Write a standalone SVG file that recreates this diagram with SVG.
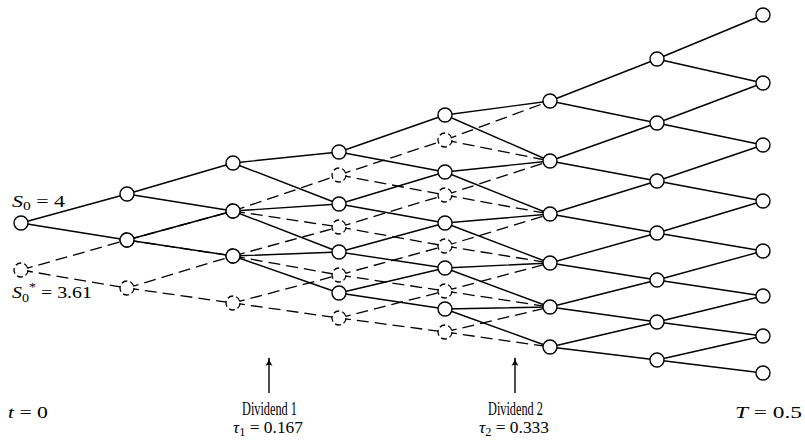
<svg xmlns="http://www.w3.org/2000/svg" width="805" height="441" viewBox="0 0 805 441">
<style>
.e{stroke:#000;stroke-width:1.4;fill:none}
.ed{stroke:#000;stroke-width:1.3;fill:none;stroke-dasharray:12 6}
.n{fill:#fff;stroke:#000;stroke-width:1.4}
.nd{fill:#fff;stroke:#000;stroke-width:1.3;stroke-dasharray:6 3}
text{font-family:"Liberation Serif","DejaVu Serif",serif;fill:#000}
.m{font-size:17px}
.l{font-size:19px}
.i{font-style:italic}
</style>
<defs>
<marker id="ah" viewBox="0 0 10 10" refX="9" refY="5" markerWidth="9" markerHeight="9" orient="auto" markerUnits="userSpaceOnUse">
<path d="M0,1 Q5,5 10,5 Q5,5 0,9 Q3,5 0,1Z" fill="#000"/>
</marker>
</defs>
<g id="connectors">
<g class="e">
<path d="M21,223L127,194M21,223L127,240"/>
<path d="M127,194L233,163M127,194L233,211M127,240L233,211M127,240L233,256"/>
<path d="M233,163L339,152M233,163L339,204M233,211L339,204M233,211L339,252M233,256L339,252M233,256L339,293"/>
<path d="M339,152L445,115M339,152L445,172M339,204L445,172M339,204L445,223M339,252L445,223M339,252L445,268M339,293L445,268M339,293L445,309"/>
<path d="M445,115L550,101M445,115L550,161M445,172L550,161M445,172L550,214M445,223L550,214M445,223L550,263M445,268L550,263M445,268L550,307M445,309L550,307M445,309L550,347"/>
<path d="M550,101L657,59M550,101L657,123M550,161L657,123M550,161L657,181M550,214L657,181M550,214L657,233M550,263L657,233M550,263L657,280M550,307L657,280M550,307L657,322M550,347L657,322M550,347L657,360"/>
<path d="M657,59L763,15M657,59L763,83M657,123L763,83M657,123L763,145M657,181L763,145M657,181L763,201M657,233L763,201M657,233L763,251M657,280L763,251M657,280L763,296M657,322L763,296M657,322L763,336M657,360L763,336M657,360L763,373"/>
</g>
<g class="ed">
<path d="M21,270L127,240"/><path d="M21,270L127,288"/>
<path d="M127,240L233,211"/><path d="M127,240L233,256"/><path d="M127,288L233,256"/><path d="M127,288L233,303"/>
<path d="M233,211L339,175"/><path d="M233,211L339,227"/><path d="M233,256L339,227"/><path d="M233,256L339,275"/><path d="M233,303L339,275"/><path d="M233,303L339,318"/>
<path d="M339,175L445,140"/><path d="M339,175L445,195"/><path d="M339,227L445,195"/><path d="M339,227L445,246"/><path d="M339,275L445,246"/><path d="M339,275L445,291"/><path d="M339,318L445,291"/><path d="M339,318L445,332"/>
<path d="M445,140L550,101"/><path d="M445,140L550,161"/><path d="M445,195L550,161"/><path d="M445,195L550,214"/><path d="M445,246L550,214"/><path d="M445,246L550,263"/><path d="M445,291L550,263"/><path d="M445,291L550,307"/><path d="M445,332L550,307"/><path d="M445,332L550,347"/>
</g>
<g class="e">
<line x1="269" y1="393" x2="269" y2="358" marker-end="url(#ah)"/>
<line x1="515" y1="393" x2="515" y2="358" marker-end="url(#ah)"/>
</g>
</g>
<g id="dashed-nodes" class="nd">
<g id="d0-0"><circle cx="21" cy="270" r="7"/></g>
<g id="d1-0"><circle cx="127" cy="240" r="7"/></g>
<g id="d1-1"><circle cx="127" cy="288" r="7"/></g>
<g id="d2-0"><circle cx="233" cy="211" r="7"/></g>
<g id="d2-1"><circle cx="233" cy="256" r="7"/></g>
<g id="d2-2"><circle cx="233" cy="303" r="7"/></g>
<g id="d3-0"><circle cx="339" cy="175" r="7"/></g>
<g id="d3-1"><circle cx="339" cy="227" r="7"/></g>
<g id="d3-2"><circle cx="339" cy="275" r="7"/></g>
<g id="d3-3"><circle cx="339" cy="318" r="7"/></g>
<g id="d4-0"><circle cx="445" cy="140" r="7"/></g>
<g id="d4-1"><circle cx="445" cy="195" r="7"/></g>
<g id="d4-2"><circle cx="445" cy="246" r="7"/></g>
<g id="d4-3"><circle cx="445" cy="291" r="7"/></g>
<g id="d4-4"><circle cx="445" cy="332" r="7"/></g>
</g>
<g id="solid-nodes" class="n">
<g id="c0-0"><circle cx="21" cy="223" r="7"/></g>
<g id="c1-0"><circle cx="127" cy="194" r="7"/></g>
<g id="c1-1"><circle cx="127" cy="240" r="7"/></g>
<g id="c2-0"><circle cx="233" cy="163" r="7"/></g>
<g id="c2-1"><circle cx="233" cy="211" r="7"/></g>
<g id="c2-2"><circle cx="233" cy="256" r="7"/></g>
<g id="c3-0"><circle cx="339" cy="152" r="7"/></g>
<g id="c3-1"><circle cx="339" cy="204" r="7"/></g>
<g id="c3-2"><circle cx="339" cy="252" r="7"/></g>
<g id="c3-3"><circle cx="339" cy="293" r="7"/></g>
<g id="c4-0"><circle cx="445" cy="115" r="7"/></g>
<g id="c4-1"><circle cx="445" cy="172" r="7"/></g>
<g id="c4-2"><circle cx="445" cy="223" r="7"/></g>
<g id="c4-3"><circle cx="445" cy="268" r="7"/></g>
<g id="c4-4"><circle cx="445" cy="309" r="7"/></g>
<g id="c5-0"><circle cx="550" cy="101" r="7"/></g>
<g id="c5-1"><circle cx="550" cy="161" r="7"/></g>
<g id="c5-2"><circle cx="550" cy="214" r="7"/></g>
<g id="c5-3"><circle cx="550" cy="263" r="7"/></g>
<g id="c5-4"><circle cx="550" cy="307" r="7"/></g>
<g id="c5-5"><circle cx="550" cy="347" r="7"/></g>
<g id="c6-0"><circle cx="657" cy="59" r="7"/></g>
<g id="c6-1"><circle cx="657" cy="123" r="7"/></g>
<g id="c6-2"><circle cx="657" cy="181" r="7"/></g>
<g id="c6-3"><circle cx="657" cy="233" r="7"/></g>
<g id="c6-4"><circle cx="657" cy="280" r="7"/></g>
<g id="c6-5"><circle cx="657" cy="322" r="7"/></g>
<g id="c6-6"><circle cx="657" cy="360" r="7"/></g>
<g id="c7-0"><circle cx="763" cy="15" r="7"/></g>
<g id="c7-1"><circle cx="763" cy="83" r="7"/></g>
<g id="c7-2"><circle cx="763" cy="145" r="7"/></g>
<g id="c7-3"><circle cx="763" cy="201" r="7"/></g>
<g id="c7-4"><circle cx="763" cy="251" r="7"/></g>
<g id="c7-5"><circle cx="763" cy="296" r="7"/></g>
<g id="c7-6"><circle cx="763" cy="336" r="7"/></g>
<g id="c7-7"><circle cx="763" cy="373" r="7"/></g>
</g>
<g id="labels">
<text class="m" x="12" y="207" textLength="53" lengthAdjust="spacingAndGlyphs"><tspan class="i">S</tspan><tspan font-size="12" dy="3">0</tspan><tspan dy="-3"> = 4</tspan></text>
<text class="m" x="12" y="298" textLength="80" lengthAdjust="spacingAndGlyphs"><tspan class="i">S</tspan><tspan font-size="12" dy="4">0</tspan><tspan font-size="12" dy="-11">*</tspan><tspan dy="7"> = 3.61</tspan></text>
<text class="m" x="8" y="418" textLength="40" lengthAdjust="spacingAndGlyphs"><tspan class="i">t</tspan> = 0</text>
<text class="m" x="735" y="418" textLength="67" lengthAdjust="spacingAndGlyphs"><tspan class="i">T</tspan> = 0.5</text>
<text class="l" x="242" y="415" textLength="55" lengthAdjust="spacingAndGlyphs">Dividend 1</text>
<text class="m" x="233" y="433" textLength="70" lengthAdjust="spacingAndGlyphs"><tspan class="i">τ</tspan><tspan font-size="12" dy="3">1</tspan><tspan dy="-3"> = 0.167</tspan></text>
<text class="l" x="488" y="415" textLength="55" lengthAdjust="spacingAndGlyphs">Dividend 2</text>
<text class="m" x="479" y="433" textLength="70" lengthAdjust="spacingAndGlyphs"><tspan class="i">τ</tspan><tspan font-size="12" dy="3">2</tspan><tspan dy="-3"> = 0.333</tspan></text>
</g>
</svg>
